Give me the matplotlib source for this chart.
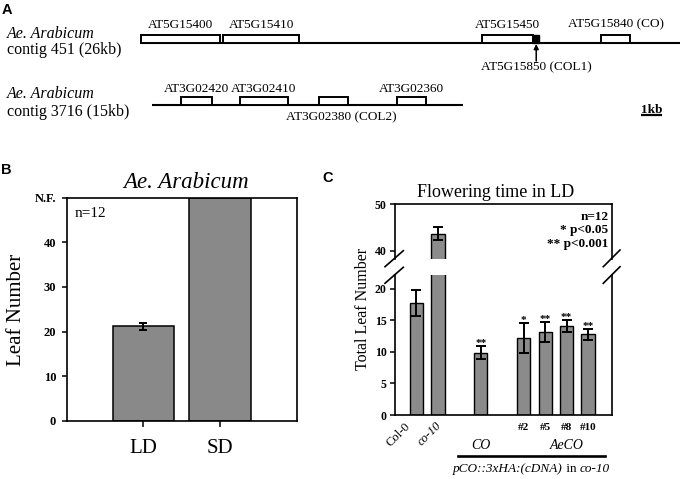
import numpy as np
import matplotlib
matplotlib.use('Agg')
import matplotlib.pyplot as plt
from matplotlib.patches import Rectangle
from matplotlib.lines import Line2D
from matplotlib.transforms import Affine2D

W, H = 680, 479
plt.rcParams['font.family'] = ['Liberation Serif', 'DejaVu Serif']

# ---- panel A: genes on contigs (kb) ----
c451_len = 26
c451_genes = ['AT5G15400', 'AT5G15410', 'AT5G15450', 'AT5G15840 (CO)']
c451_start = [0.0, 3.97, 16.43, 22.21]
c451_end = [3.83, 7.63, 18.93, 23.60]
col1_name = 'AT5G15850 (COL1)'
col1_start, col1_end = 18.93, 19.20

c3716_len = 15
c3716_genes = ['AT3G02420', 'AT3G02410', 'AT3G02380 (COL2)', 'AT3G02360']
c3716_start = [1.43, 4.25, 8.06, 11.84]
c3716_end = [2.89, 6.55, 9.46, 13.25]

# ---- panel B ----
b_cats = ['LD', 'SD']
b_vals = [21.2, 50]
b_err = [0.8, 0]
b_yticks = [0, 10, 20, 30, 40, 50]
b_yticklabels = ['0', '10', '20', '30', '40', 'N.F.']

# ---- panel C ----
c_names = ['Col-0', 'co-10', 'CO', '#2', '#5', '#8', '#10']
c_pos = [0, 1, 3, 5, 6, 7, 8]
c_vals = [17.8, 43.6, 9.9, 12.2, 13.2, 14.05, 12.8]
c_err = [2.1, 1.4, 1.0, 2.35, 1.6, 0.95, 0.9]
c_stars = ['', '', '**', '*', '**', '**', '**']

fig = plt.figure(figsize=(W / 100, H / 100), dpi=100)
pix = Affine2D().scale(1 / W, -1 / H).translate(0, 1) + fig.transFigure

def px_axes(l, t, r, b):
    return fig.add_axes([l / W, 1 - b / H, (r - l) / W, (b - t) / H])

def ptext(x, y, s, **kw):
    return fig.text(x, y, s, transform=pix, **kw)

# ================= panel A =================
PX_KB = 20.73
axA = fig.add_axes([0, 0, 1, 1])
axA.set_xlim(-141 / PX_KB, (W - 141) / PX_KB)
axA.set_ylim(H, 0)
axA.axis('off')
axA.patch.set_visible(False)

rows = [  # offset kb, line y, box top, label baseline
    (0.0, 43.3, 35.0, 27.5),
    (0.52, 105.0, 96.7, 92.0),
]
contigs = [
    (c451_len, c451_genes, c451_start, c451_end),
    (c3716_len, c3716_genes, c3716_start, c3716_end),
]
for (off, ly, top, lb), (clen, names, st, en) in zip(rows, contigs):
    axA.plot([off, off + clen], [ly, ly], color='k', lw=1.5, solid_capstyle='butt', zorder=1)
    for nm, s, e in zip(names, st, en):
        axA.add_patch(Rectangle((off + s, top), e - s, ly - top, fc='white', ec='k', lw=1.4, zorder=2))
        if 'COL2' in nm:
            axA.text(off + (s + e) / 2 + 0.4, 120.5, nm, ha='center', va='baseline', fontsize=9.5)
        else:
            axA.text(off + (s + e) / 2, lb, nm, ha='center', va='baseline', fontsize=9.5)

axA.add_patch(Rectangle((col1_start, 35.0), col1_end - col1_start, 43.3 - 35.0, fc='k', ec='k', lw=1, zorder=3))
cx = (col1_start + col1_end) / 2
axA.annotate('', xy=(cx, 44.0), xytext=(cx, 61.0),
             arrowprops=dict(arrowstyle='-|>', color='k', lw=1.1, mutation_scale=7, shrinkA=0, shrinkB=0))
axA.text(cx, 70.5, col1_name, ha='center', va='baseline', fontsize=9.5)

# scale bar 1kb
sb0 = (641 - 141) / PX_KB
axA.plot([sb0, sb0 + 1], [114.5, 114.5], color='k', lw=1.6, solid_capstyle='butt')
axA.text(sb0 + 0.5, 112.5, '1kb', ha='center', va='baseline', fontsize=9.5, fontweight='bold')

ptext(7, 38.5, 'Ae. Arabicum', style='italic', fontsize=11.5, va='baseline')
ptext(7, 54.5, 'contig 451 (26kb)', fontsize=11.5, va='baseline')
ptext(7, 98.5, 'Ae. Arabicum', style='italic', fontsize=11.5, va='baseline')
ptext(7, 115.5, 'contig 3716 (15kb)', fontsize=11.5, va='baseline')

ptext(2, 13.5, 'A', family='Liberation Sans', fontweight='bold', fontsize=10.5, va='baseline')
ptext(1, 173.5, 'B', family='Liberation Sans', fontweight='bold', fontsize=10.5, va='baseline')
ptext(322, 182.5, 'C', family='Liberation Sans', fontweight='bold', fontsize=10.5, va='baseline')

# ================= panel B =================
axB = px_axes(66.7, 197.7, 296.7, 420.7)
bx = np.arange(1, len(b_cats) + 1)
axB.bar(bx, b_vals, width=0.8, color='#898989', edgecolor='k', lw=1.1, zorder=2)
for x, v, e in zip(bx, b_vals, b_err):
    if e > 0:
        axB.errorbar(x, v, yerr=e, fmt='none', ecolor='k', elinewidth=1.4, capsize=3.2, capthick=1.4, zorder=3)
axB.set_xlim(0, 3)
axB.set_ylim(0, 50)
axB.set_xticks(bx, b_cats, fontsize=15)
axB.set_yticks(b_yticks, b_yticklabels, fontsize=9, fontweight='bold')
axB.tick_params(axis='x', direction='out', length=4.3, width=1.1, pad=9)
axB.tick_params(axis='y', direction='out', length=3.6, width=1.1, pad=4)
for sp in axB.spines.values():
    sp.set_linewidth(1.2)
axB.text(0.036, 0.915, 'n=12', transform=axB.transAxes, fontsize=11, va='baseline')
ptext(186, 188.5, 'Ae. Arabicum', style='italic', fontsize=16.5, ha='center', va='baseline')
ptext(17, 310, 'Leaf Number', fontsize=15, rotation=90, ha='center', va='center')

# ================= panel C =================
axCu = px_axes(395, 204.3, 611.7, 259)
axCl = px_axes(395, 275, 611.7, 415)
for ax in (axCu, axCl):
    ax.bar(c_pos, c_vals, width=0.62, color='#8b8b8b', edgecolor='k', lw=1.0, zorder=2)
    ax.errorbar(c_pos, c_vals, yerr=c_err, fmt='none', ecolor='k', elinewidth=1.4,
                capsize=3.8, capthick=1.4, zorder=3)
    ax.set_xlim(-1, 9.1)
    ax.set_xticks([])
    ax.tick_params(axis='y', direction='out', length=3.6, width=1.1, pad=2.5, labelsize=8.5)
    for sp in ax.spines.values():
        sp.set_linewidth(1.2)
axCu.set_ylim(38.2, 50)
axCl.set_ylim(0, 22.2)
axCu.set_yticks([40, 50], ['40', '50'], fontweight='bold')
axCl.set_yticks([0, 5, 10, 15, 20], ['0', '5', '10', '15', '20'], fontweight='bold')
axCu.spines['bottom'].set_visible(False)
axCl.spines['top'].set_visible(False)

for x, v, e, s in zip(c_pos, c_vals, c_err, c_stars):
    if s:
        axCl.text(x, v + e, s, ha='center', va='baseline', fontsize=8, fontweight='bold')

# axis break marks
for (x0, y0, x1, y1) in [(385, 266.7, 403.3, 250.7), (385, 283.3, 403.3, 267.3),
                         (603.3, 266.7, 620, 250), (603.3, 283.3, 620, 266.7)]:
    fig.add_artist(Line2D([x0, x1], [y0, y1], transform=pix, color='k', lw=1.2))

# legend text
ptext(608.5, 219.5, 'n=12', fontsize=9.5, fontweight='bold', ha='right', va='baseline')
ptext(608.5, 233, '* p<0.05', fontsize=9.5, fontweight='bold', ha='right', va='baseline')
ptext(608.5, 247, '** p<0.001', fontsize=9.5, fontweight='bold', ha='right', va='baseline')

# x labels
tr_x = matplotlib.transforms.blended_transform_factory(axCl.transData, pix)
axCl.text(c_pos[0] - 0.55, 420, c_names[0], transform=tr_x, rotation=45, rotation_mode='anchor',
          ha='right', va='top', fontsize=9)
axCl.text(c_pos[1] - 0.1, 420, c_names[1], transform=tr_x, rotation=45, rotation_mode='anchor',
          ha='right', va='top', fontsize=9, style='italic')
for x, nm in zip(c_pos[3:], c_names[3:]):
    axCl.text(x, 430.5, nm, transform=tr_x, ha='center', va='baseline', fontsize=8, fontweight='bold')
axCl.text(c_pos[2], 449, c_names[2], transform=tr_x, ha='center', va='baseline', fontsize=10, style='italic')
axCl.text(7.0, 449, 'AeCO', transform=tr_x, ha='center', va='baseline', fontsize=10, style='italic')
fig.add_artist(Line2D([457.7, 605], [456, 456], transform=pix, color='k', lw=1.9))

t1 = ptext(453, 472, 'pCO::3xHA:(cDNA)', fontsize=9.5, style='italic', va='baseline')
t2 = fig.text(0, 0, ' in ', fontsize=9.5, va='baseline')
t3 = fig.text(0, 0, 'co-10', fontsize=9.5, style='italic', va='baseline')
fig.canvas.draw()
r = fig.canvas.get_renderer()
bb1 = t1.get_window_extent(r)
t2.set_position((bb1.x1 / W, 1 - 472 / H))
fig.canvas.draw()
bb2 = t2.get_window_extent(r)
t3.set_position((bb2.x1 / W, 1 - 472 / H))

ptext(496, 197.3, 'Flowering time in LD', fontsize=13, ha='center', va='baseline')
ptext(363, 309, 'Total Leaf Number', fontsize=11.5, rotation=90, ha='center', va='center')

fig.savefig('out.png', dpi=100)
